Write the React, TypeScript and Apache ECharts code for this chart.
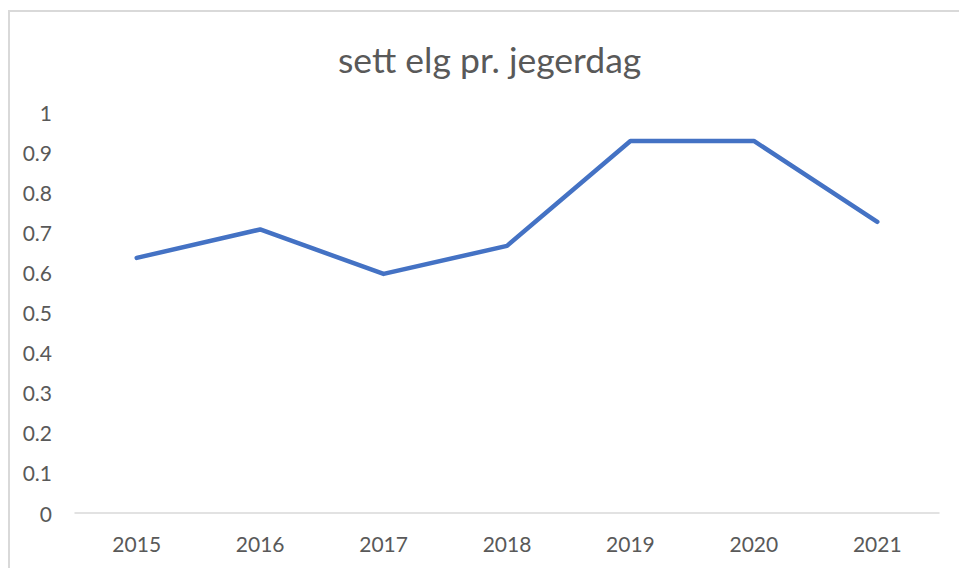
import React, { useEffect, useRef } from "react";
import * as echarts from "echarts";

const titleText = "sett elg pr. jegerdag";
const years = ["2015", "2016", "2017", "2018", "2019", "2020", "2021"];
const seenPerDay = [0.637, 0.708, 0.597, 0.667, 0.929, 0.929, 0.727];

export default function App() {
  const ref = useRef<HTMLDivElement>(null);
  useEffect(() => {
    if (!ref.current) return;
    const chart = echarts.init(ref.current, null, { renderer: "svg" });
    const font = "Lato, 'Open Sans', sans-serif";
    chart.setOption({
      animation: false,
      backgroundColor: "#ffffff",
      title: {
        text: titleText,
        left: 333,
        top: 36,
        textStyle: { fontFamily: font, fontSize: 35.5, fontWeight: "normal", color: "#595959" },
      },
      graphic: [
        {
          type: "rect",
          shape: { x: 9, y: 11, width: 1200, height: 1200 },
          style: { fill: "none", stroke: "#d9d9d9", lineWidth: 2 },
          silent: true,
        },
      ],
      grid: { left: 75, right: 20, top: 112.5, bottom: 55, containLabel: false },
      xAxis: {
        type: "category",
        data: years,
        boundaryGap: true,
        axisLine: { show: true, lineStyle: { color: "#d9d9d9", width: 1.5 } },
        axisTick: { show: false },
        axisLabel: { fontFamily: font, fontSize: 21, color: "#595959", margin: 20 },
      },
      yAxis: {
        type: "value",
        min: 0,
        max: 1,
        interval: 0.1,
        axisLine: { show: false },
        axisTick: { show: false },
        splitLine: { show: false },
        axisLabel: {
          fontFamily: font,
          fontSize: 21,
          color: "#595959",
          margin: 23,
          formatter: (v: number) => String(Math.round(v * 10) / 10),
        },
      },
      series: [
        {
          type: "line",
          data: seenPerDay,
          symbol: "none",
          lineStyle: { color: "#4472C4", width: 4.5, cap: "round", join: "round" },
        },
      ],
    });
    return () => chart.dispose();
  }, []);
  return (
    <div
      ref={ref}
      style={{ position: "fixed", left: 0, top: 0, width: 959, height: 568 }}
    />
  );
}
